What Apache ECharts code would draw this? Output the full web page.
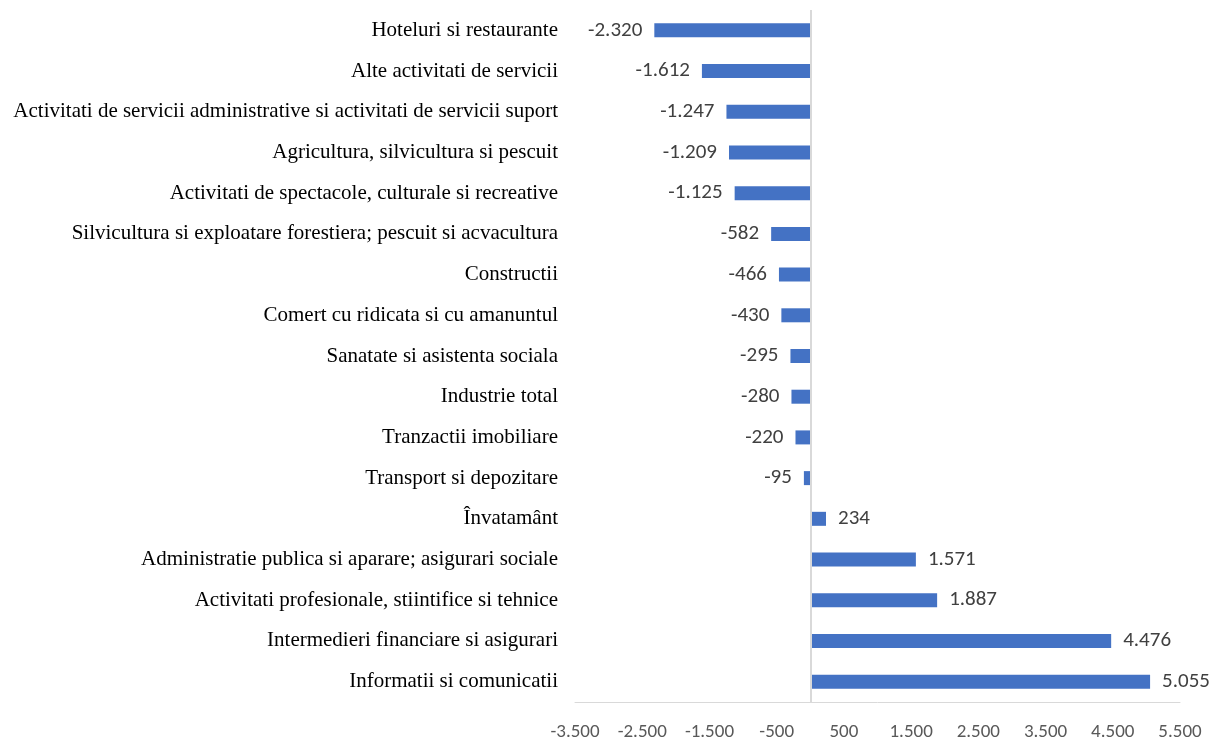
<!DOCTYPE html>
<html>
<head>
<meta charset="utf-8">
<script src="https://cdn.jsdelivr.net/npm/echarts@6/dist/echarts.min.js"></script>
<style>html,body{margin:0;padding:0;background:#fff}#c{width:1217px;height:742px}</style>
</head>
<body>
<div id="c"></div>
<script>
const categories = [
  "Hoteluri si restaurante",
  "Alte activitati de servicii",
  "Activitati de servicii administrative si activitati de servicii suport",
  "Agricultura, silvicultura si pescuit",
  "Activitati de spectacole, culturale si recreative",
  "Silvicultura si exploatare forestiera; pescuit si acvacultura",
  "Constructii",
  "Comert cu ridicata si cu amanuntul",
  "Sanatate si asistenta sociala",
  "Industrie total",
  "Tranzactii imobiliare",
  "Transport si depozitare",
  "Învatamânt",
  "Administratie publica si aparare; asigurari sociale",
  "Activitati profesionale, stiintifice si tehnice",
  "Intermedieri financiare si asigurari",
  "Informatii si comunicatii"
];
const values = [-2320, -1612, -1247, -1209, -1125, -582, -466, -430, -295, -280, -220, -95, 234, 1571, 1887, 4476, 5055];
const axisMin = -3500, axisMax = 5500;

function fmt(v) {
  const s = Math.abs(v).toString().replace(/\B(?=(\d{3})+(?!\d))/g, '.');
  return (v < 0 ? '-' : '') + s;
}

const chart = echarts.init(document.getElementById('c'));
chart.setOption({
  animation: false,
  grid: { left: 575, right: 37, top: 10, bottom: 39 },
  xAxis: {
    type: 'value', min: axisMin, max: axisMax, interval: 500,
    splitLine: { show: false },
    axisTick: { show: false },
    axisLine: { show: true, onZero: false, lineStyle: { color: '#d9d9d9', width: 1 } },
    axisLabel: {
      margin: 21, color: '#595959', fontFamily: 'Carlito, Lato, sans-serif', fontSize: 19,
      formatter: v => (Math.abs(v) % 1000 === 500 ? fmt(v) : '')
    }
  },
  yAxis: {
    type: 'category', data: categories, inverse: true,
    axisLine: { show: false }, axisTick: { show: false },
    axisLabel: { margin: 17, color: '#000', fontFamily: '"Liberation Serif", serif', fontSize: 21 }
  },
  series: [{
    type: 'bar', barWidth: 14,
    itemStyle: { color: '#4472C4' },
    data: values.map(v => ({
      value: v,
      label: { position: v < 0 ? 'left' : 'right' }
    })),
    label: {
      show: true, distance: 12, color: '#404040', fontFamily: 'Carlito, Lato, sans-serif', fontSize: 21,
      formatter: p => fmt(p.value)
    },
    markLine: {
      silent: true, symbol: 'none',
      label: { show: false },
      lineStyle: { color: '#d9d9d9', type: 'solid', width: 2 },
      data: [{ xAxis: 0 }]
    }
  }]
});
</script>
</body>
</html>
